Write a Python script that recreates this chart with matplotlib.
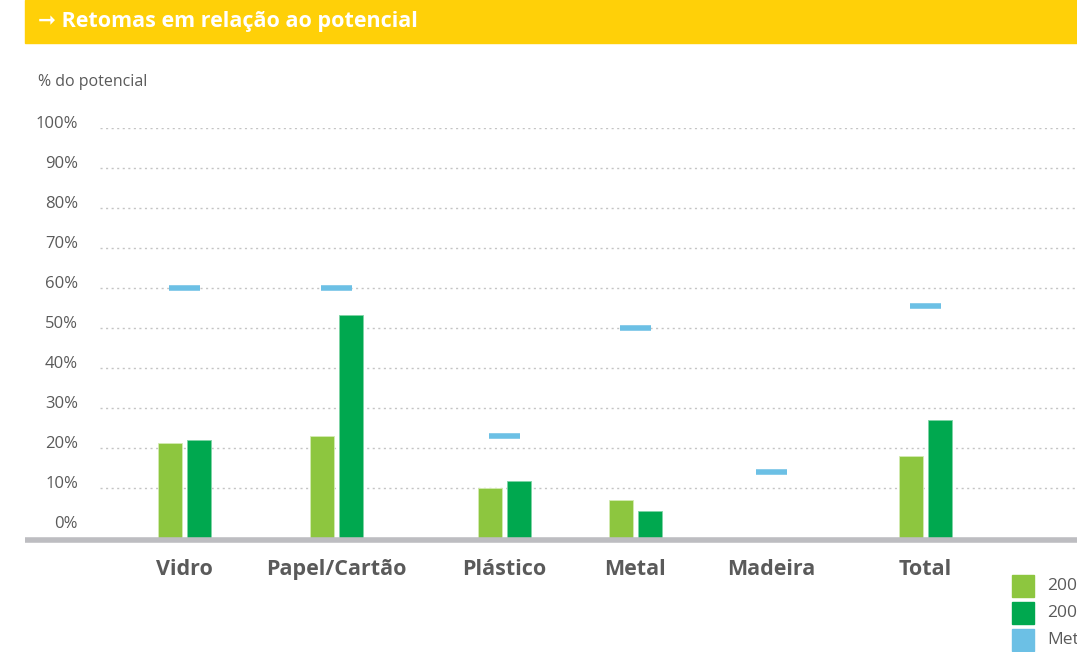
import matplotlib.pyplot as plt
from matplotlib.patches import Rectangle

plt.rcParams['font.family'] = ['Open Sans', 'DejaVu Sans']

categories = ['Vidro', 'Papel/Cartão', 'Plástico', 'Metal', 'Madeira', 'Total']
retomas_2006 = [21.25, 23, 10, 7, 0, 18]
retomas_2007 = [22, 53.25, 11.75, 4.25, 0, 27]
meta = [60, 60, 23, 50, 14, 55.5]
yticks = [0, 10, 20, 30, 40, 50, 60, 70, 80, 90, 100]
legend_labels = ['2006', '2007', 'Meta']

# layout (x in figure pixels, groups are not evenly spaced in the original)
group_x = [184.5, 336, 504.5, 635.5, 771, 925]
bar_w = 24
bar_off = 14.5
meta_half = 15.5

c_light = '#8dc63f'
c_dark = '#00a84f'
c_meta = '#6cc0e5'
c_text = '#5a5a5a'

W, H = 1077, 652
fig = plt.figure(figsize=(W / 100, H / 100), dpi=100)
fig.patch.set_facecolor('white')

# title banner
fig.patches.append(Rectangle((25 / W, 1 - 43 / H), 1 - 25 / W, 43 / H,
                             transform=fig.transFigure, color='#ffd008', zorder=0))
fig.text(38 / W, 1 - 22 / H, '➞ Retomas em relação ao potencial', color='white',
         fontsize=15.5, fontweight='bold', va='center', ha='left')
fig.text(38 / W, 1 - 82 / H, '% do potencial', color=c_text, fontsize=11.5,
         va='center', ha='left')

# axes: bottom at y=540px (=-3%), 4 px per percent
ax = fig.add_axes([25 / W, (H - 540) / H, 1 - 25 / W, 412 / H])
ax.set_xlim(25, W)
ax.set_ylim(-3, 100)
ax.axis('off')

for v in yticks:
    if v > 0:
        ax.plot([100, W], [v, v], color='#c4c4c4', lw=1, ls=(0, (1.5, 2.5)), zorder=1)
    ax.text(78, v, f'{v}%', ha='right', va='baseline', color=c_text, fontsize=12)

bottom = -3
for i, x in enumerate(group_x):
    if retomas_2006[i] > 0:
        ax.bar(x - bar_off, retomas_2006[i] - bottom, bottom=bottom, width=bar_w,
               color=c_light, edgecolor='#d4ebb3', linewidth=0.6, zorder=2)
    if retomas_2007[i] > 0:
        ax.bar(x + bar_off, retomas_2007[i] - bottom, bottom=bottom, width=bar_w,
               color=c_dark, edgecolor='#7fd3a5', linewidth=0.6, zorder=2)
    ax.plot([x - meta_half, x + meta_half], [meta[i], meta[i]], color=c_meta,
            lw=4, solid_capstyle='butt', zorder=3)
    ax.text(x, -10.3, categories[i], ha='center', va='center', color=c_text,
            fontsize=15.5, fontweight='bold', clip_on=False)

# baseline
ax.plot([25, W], [-3, -3], color='#bdbdc1', lw=4, solid_capstyle='butt',
        zorder=4, clip_on=False)

# legend (cut off at the right edge like the original)
for j, (lab, col) in enumerate(zip(legend_labels, [c_light, c_dark, c_meta])):
    ytop = 575 + j * 27
    fig.patches.append(Rectangle((1012 / W, 1 - (ytop + 22) / H), 22 / W, 22 / H,
                                 transform=fig.transFigure, color=col))
    fig.text(1047 / W, 1 - (ytop + 11) / H, lab, color=c_text, fontsize=12.5,
             va='center', ha='left')

fig.savefig('out.png', dpi=100)
